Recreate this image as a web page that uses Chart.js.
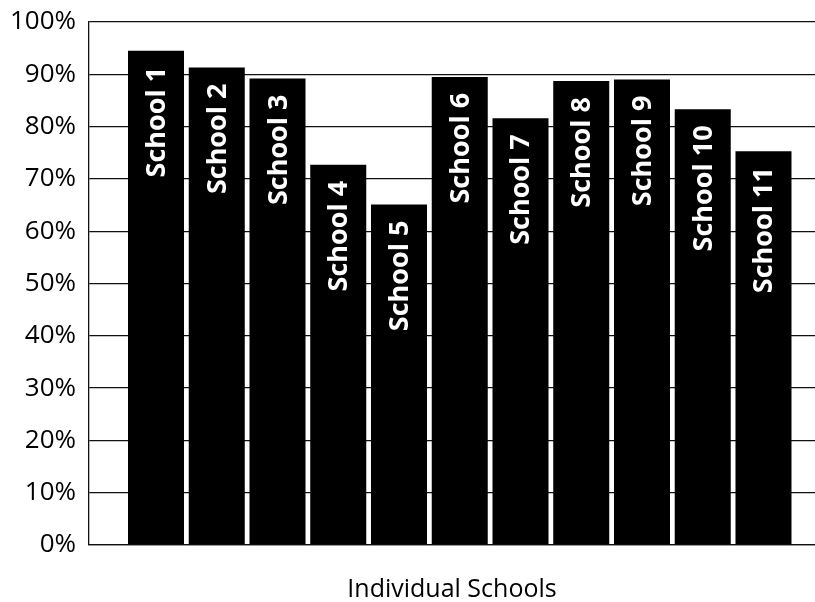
<!DOCTYPE html>
<html>
<head>
<meta charset="utf-8">
<title>Individual Schools</title>
<script src="https://cdn.jsdelivr.net/npm/chart.js@4/dist/chart.umd.min.js"></script>
<style>
  html, body { margin: 0; padding: 0; background: #fff; }
  #wrap { width: 815px; height: 602px; position: relative; }
</style>
</head>
<body>
<div id="wrap"><canvas id="schoolChart"></canvas></div>
<script>
(function () {
  "use strict";

  const schools = ["School 1", "School 2", "School 3", "School 4", "School 5", "School 6",
    "School 7", "School 8", "School 9", "School 10", "School 11"];
  const rates = [94.5, 91.3, 89.2, 72.7, 65.1, 89.5, 81.6, 88.7, 89.0, 83.3, 75.3];
  const yTicks = [0, 10, 20, 30, 40, 50, 60, 70, 80, 90, 100];

  const ink = "#111";
  const family = "'Open Sans', 'DejaVu Sans', sans-serif";

  // white school names written upward inside the top of each bar
  const barNames = {
    id: "barNames",
    afterDatasetsDraw: function (chart) {
      const ctx = chart.ctx;
      const meta = chart.getDatasetMeta(0);
      ctx.save();
      ctx.fillStyle = "#fff";
      ctx.font = "bold 27px " + family;
      ctx.textAlign = "right";
      ctx.textBaseline = "alphabetic";
      meta.data.forEach(function (bar, i) {
        ctx.save();
        ctx.translate(bar.x, bar.y + 16);
        ctx.rotate(-Math.PI / 2);
        ctx.fillText(schools[i], 0, 9);
        ctx.restore();
      });
      ctx.restore();
    }
  };

  const points = rates.map(function (v, i) { return { x: i + 1, y: v }; });

  new Chart(document.getElementById("schoolChart"), {
    type: "bar",
    data: {
      datasets: [{
        data: points,
        backgroundColor: "#000",
        borderWidth: 0,
        categoryPercentage: 1,
        barPercentage: 0.922
      }]
    },
    plugins: [barNames],
    options: {
      responsive: true,
      maintainAspectRatio: false,
      animation: false,
      layout: { padding: { top: 22, right: 0, bottom: 0, left: 0 } },
      plugins: {
        legend: { display: false },
        tooltip: { enabled: false }
      },
      scales: {
        x: {
          type: "linear",
          offset: false,
          min: -0.103,
          max: 11.848,
          ticks: { display: false },
          grid: { display: false, drawTicks: false },
          border: { display: true, color: ink, width: 1.3 },
          title: {
            display: true,
            text: "Individual Schools",
            color: "#000",
            font: { family: family, size: 25, lineHeight: 1 },
            padding: { top: 32, bottom: 0 }
          }
        },
        y: {
          min: 0,
          max: 100,
          afterBuildTicks: function (scale) {
            scale.ticks = yTicks.map(function (v) { return { value: v }; });
          },
          afterFit: function (scale) {
            scale.width = 89;
            // labels may overhang the plot; let the layout padding decide the top
            scale.paddingTop = 0;
            scale.paddingBottom = 0;
          },
          ticks: {
            color: "#000",
            padding: 13,
            font: { family: family, size: 26 },
            callback: function (v) { return v + "%"; }
          },
          grid: { color: ink, lineWidth: 1.3, drawTicks: false },
          border: { display: true, color: ink, width: 1.3 }
        }
      }
    }
  });
})();
</script>
</body>
</html>
